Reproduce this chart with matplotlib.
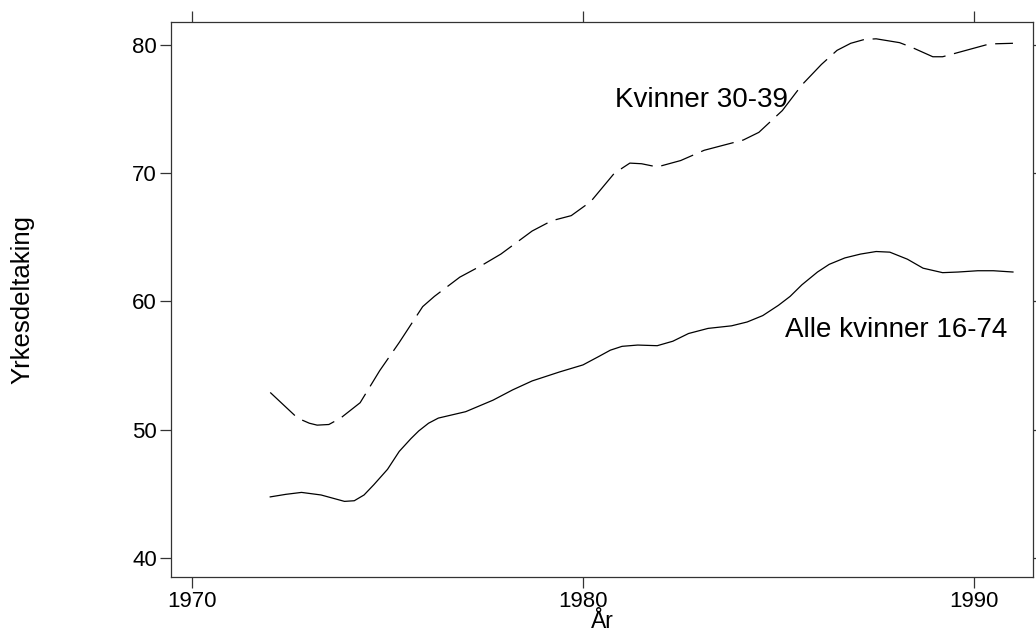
import numpy as np
import matplotlib.pyplot as plt

plt.rcParams['font.family'] = ['Liberation Sans', 'DejaVu Sans']

# Alle kvinner 16-74
aar_alle = [1972.0, 1972.4, 1972.8, 1973.3, 1973.9, 1974.15, 1974.4, 1974.65, 1975.0, 1975.3,
            1975.6, 1975.8, 1976.05, 1976.3, 1977.0, 1977.7, 1978.2, 1978.7, 1979.4, 1980.0, 1980.4,
            1980.7, 1981.0, 1981.4, 1981.9, 1982.3, 1982.7, 1983.2, 1983.8, 1984.2, 1984.6,
            1985.0, 1985.3, 1985.6, 1986.0, 1986.3, 1986.7, 1987.1, 1987.5, 1987.85,
            1988.3, 1988.7, 1989.2, 1989.6, 1990.1, 1990.5, 1991.0]
alle = [44.75, 44.95, 45.1, 44.9, 44.4, 44.45, 44.9, 45.7, 46.9, 48.3,
        49.3, 49.9, 50.5, 50.9, 51.4, 52.3, 53.1, 53.8, 54.5, 55.05, 55.7,
        56.2, 56.5, 56.6, 56.55, 56.9, 57.5, 57.9, 58.1, 58.4, 58.9,
        59.7, 60.4, 61.3, 62.3, 62.9, 63.4, 63.7, 63.9, 63.85,
        63.3, 62.6, 62.25, 62.3, 62.4, 62.4, 62.3]

# Kvinner 30-39
aar_30_39 = [1972.0, 1972.35, 1972.7, 1973.0, 1973.2, 1973.5, 1973.8, 1974.3, 1974.8,
             1975.3, 1975.6, 1975.9, 1976.2, 1976.85, 1977.4, 1977.9, 1978.3, 1978.7,
             1979.2, 1979.7, 1980.2, 1980.5, 1980.8, 1981.2, 1981.5, 1981.9, 1982.5,
             1983.1, 1983.6, 1984.1, 1984.5, 1985.1, 1985.6, 1986.1, 1986.5, 1986.85,
             1987.2, 1987.5, 1988.1, 1988.4, 1988.95, 1989.2, 1989.8, 1990.4, 1991.0]
k30_39 = [52.9, 51.9, 50.9, 50.5, 50.35, 50.4, 50.9, 52.1, 54.6,
          56.8, 58.2, 59.6, 60.4, 61.9, 62.8, 63.7, 64.6, 65.5,
          66.3, 66.7, 67.8, 68.9, 70.0, 70.8, 70.75, 70.5, 71.0,
          71.8, 72.2, 72.6, 73.2, 74.9, 76.9, 78.5, 79.6, 80.15,
          80.45, 80.5, 80.2, 79.85, 79.1, 79.1, 79.6, 80.1, 80.15]

xticks = [1970, 1980, 1990]
yticks = [40, 50, 60, 70, 80]

fig = plt.figure(figsize=(10.36, 6.33), dpi=100)
ax = fig.add_axes([0.165, 0.0885, 0.832, 0.8765])

ax.plot(aar_alle, alle, color='black', linewidth=0.9)
ax.plot(aar_30_39, k30_39, color='black', linewidth=0.9, dashes=(27, 7))

ax.text(1980.82, 75.7, 'Kvinner 30-39', fontsize=20, va='center', ha='left')
ax.text(1985.17, 57.8, 'Alle kvinner 16-74', fontsize=20, va='center', ha='left')

ax.set_xlim(1969.46, 1991.51)
ax.set_ylim(38.5, 81.8)
ax.set_xticks(xticks)
ax.set_yticks(yticks)
ax.tick_params(direction='out', length=8, width=0.9, labelsize=16, color='#333333',
               top=True, right=True, pad=2)
for sp in ax.spines.values():
    sp.set_linewidth(0.9)
    sp.set_color('#333333')

ax.set_xlabel('År', fontsize=16.5, labelpad=-1)
ax.set_ylabel('Yrkesdeltaking', fontsize=18.5)
ax.yaxis.set_label_coords(-0.158, 0.5)

fig.savefig('out.png', dpi=100)
